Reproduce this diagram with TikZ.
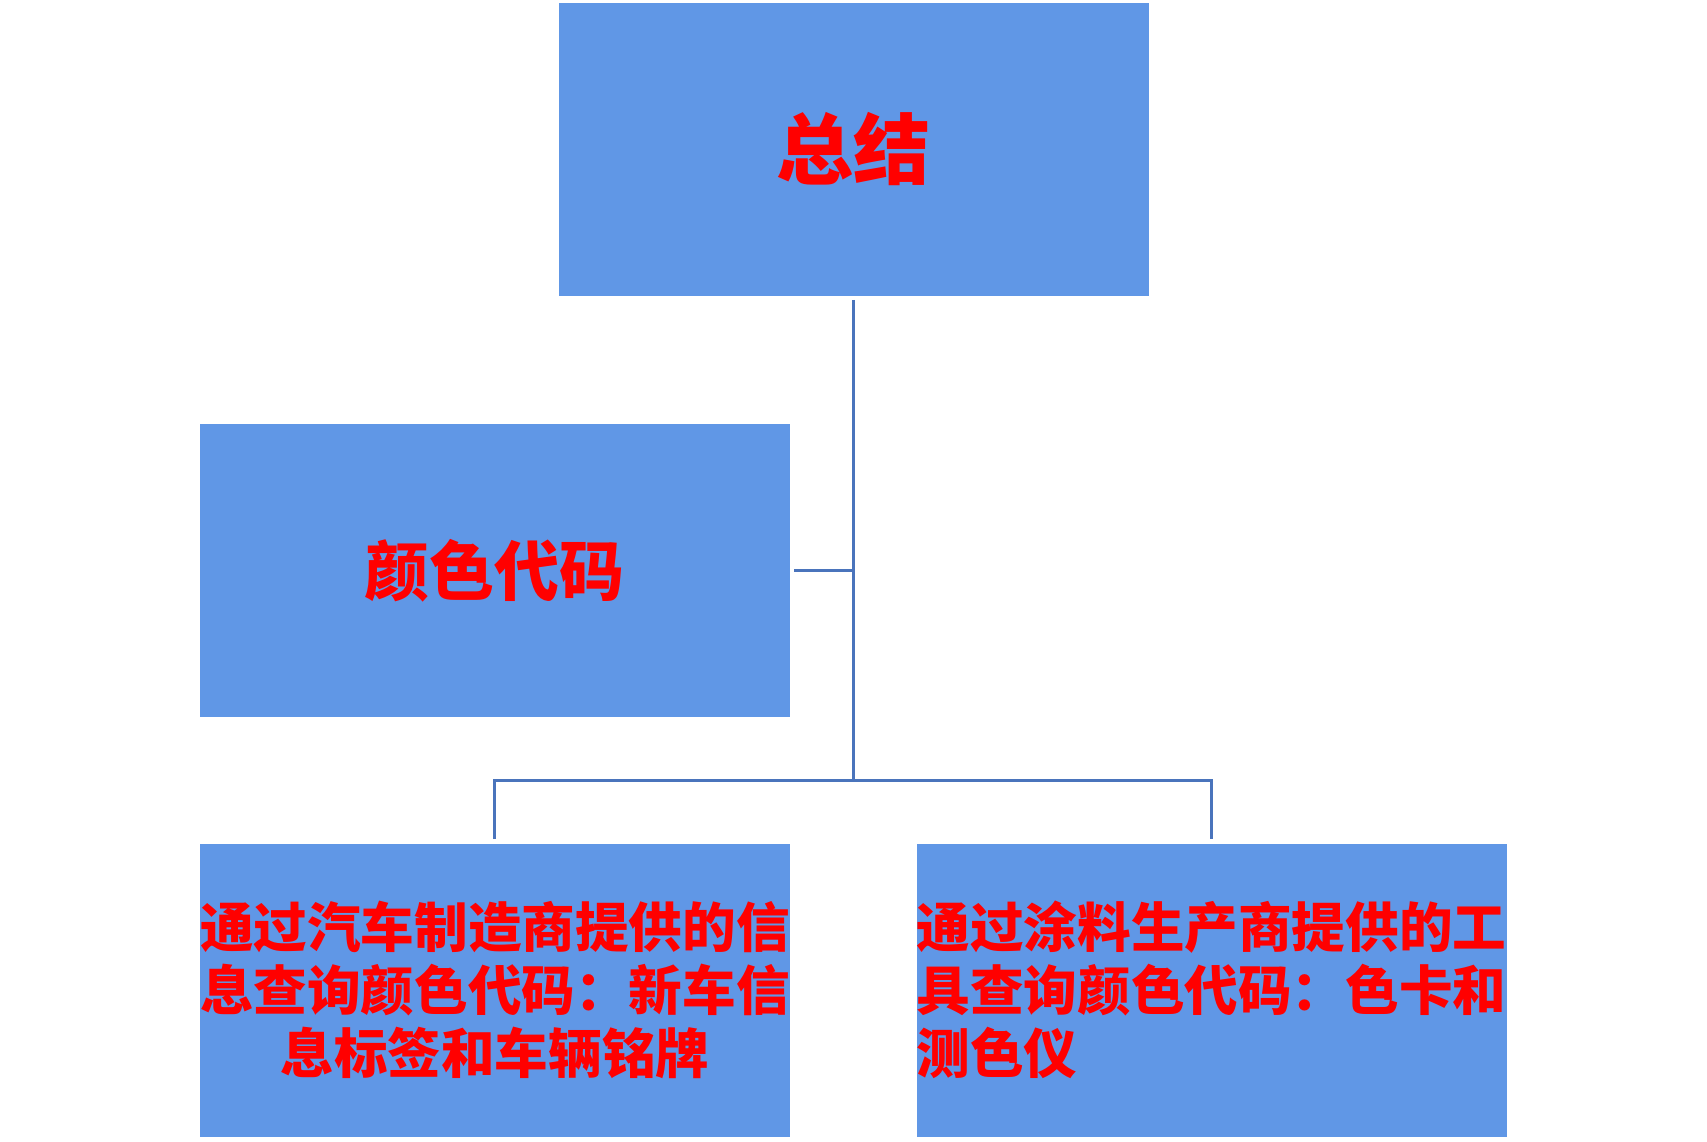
\documentclass[tikz,border=0pt]{standalone}
\usepackage{fontspec}
\usepackage{tikz}
\usetikzlibrary{calc,positioning}
\newfontfamily\cjk{Noto Sans CJK SC Black}
\definecolor{boxblue}{HTML}{6097E6}
\definecolor{linkblue}{HTML}{4A74BC}
\definecolor{textred}{HTML}{FF0000}

\begin{document}
\begin{tikzpicture}[x=0.5pt,y=-0.5pt,
    card/.style={fill=boxblue, draw=none, inner sep=0pt, minimum width=295pt, minimum height=146.5pt, text=textred},
    link/.style={draw=linkblue, line width=1.5pt}]
    \useasboundingbox (0,0) rectangle (1707,1141);

    % Top box
    \node[card, font=\cjk\fontsize{38.5}{46}\selectfont] (sum) at (853.5,149) {总结};

    % Middle box
    \node[card, font=\cjk\fontsize{32.5}{40}\selectfont] (code) at (494.8,570.5) {颜色代码};

    % Bottom boxes
    \node[card, text width=295pt, align=center, font=\cjk\fontsize{26.8}{31.5}\selectfont] (maker) at (494.8,990)
        {通过汽车制造商提供的信\\息查询颜色代码：新车信\\息标签和车辆铭牌};
    \node[card, text width=295pt, align=left, font=\cjk\fontsize{26.8}{31.5}\selectfont] (paint) at (1211.7,990)
        {通过涂料生产商提供的工\\具查询颜色代码：色卡和\\测色仪};

    % Connectors
    \coordinate (hub) at (853.5,780);
    \draw[link] ([yshift=-2pt]sum.south) -- (hub);
    \draw[link] ([xshift=2pt]code.east) -- (code.east -| hub);
    \draw[link] ([yshift=2pt]maker.north) |- (hub) -| ([yshift=2pt]paint.north);
\end{tikzpicture}
\end{document}
